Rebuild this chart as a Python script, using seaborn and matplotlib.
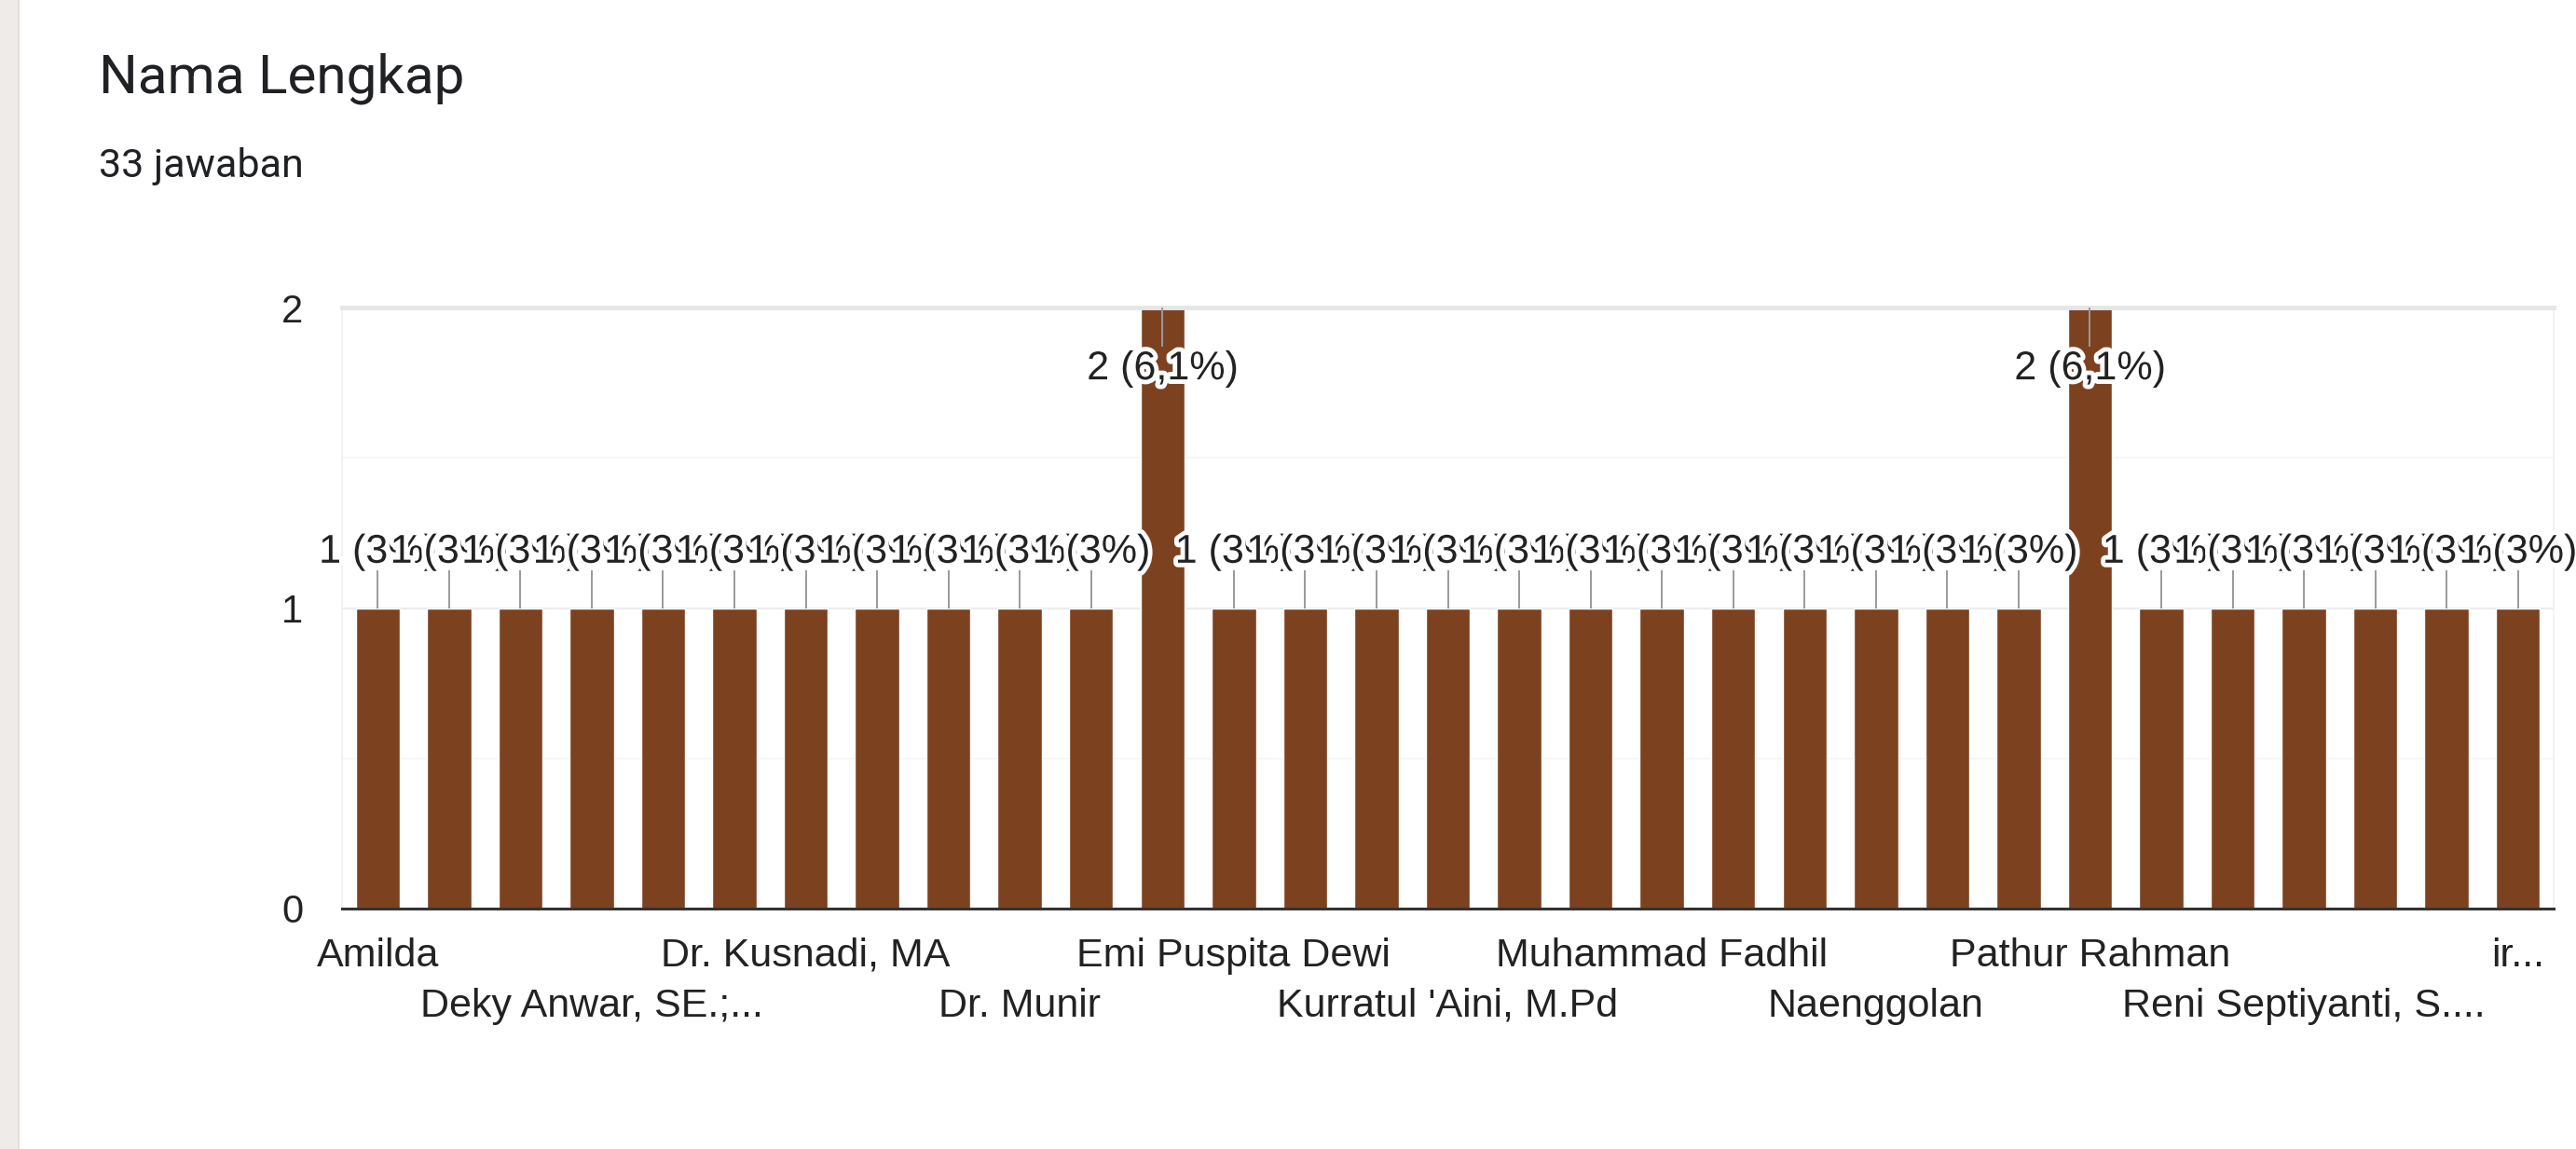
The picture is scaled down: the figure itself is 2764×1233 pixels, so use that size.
import matplotlib
matplotlib.use("Agg")
import matplotlib.pyplot as plt
import matplotlib.patheffects as pe
from matplotlib.patches import Rectangle
import seaborn as sns
import pandas as pd

# ---------------- data ----------------
title = "Nama Lengkap"
subtitle = "33 jawaban"
total_responses = 33

# 31 answer categories (alphabetical, as Google Forms sorts them);
# only every third name is visible in the picture, the others are hidden
categories = [
    "Amilda", "nama 2", "nama 3",
    "Deky Anwar, SE.;...", "nama 5", "nama 6",
    "Dr. Kusnadi, MA", "nama 8", "nama 9",
    "Dr. Munir", "nama 11", "nama 12",
    "Emi Puspita Dewi", "nama 14", "nama 15",
    "Kurratul 'Aini, M.Pd", "nama 17", "nama 18",
    "Muhammad Fadhil", "nama 20", "nama 21",
    "Naenggolan", "nama 23", "nama 24",
    "Pathur Rahman", "nama 26", "nama 27",
    "Reni Septiyanti, S....", "nama 29", "nama 30",
    "ir...",
]
counts = [1, 1, 1, 1, 1, 1, 1, 1, 1, 1, 1, 2, 1, 1, 1, 1,
          1, 1, 1, 1, 1, 1, 1, 1, 2, 1, 1, 1, 1, 1, 1]
label_step = 3
y_ticks = [0, 1, 2]

# ---------------- style ----------------
BAR = "#7c4220"
W, H = 2764, 1233
sns.set_theme(style="white")
plt.rcParams["font.family"] = ["Liberation Sans", "DejaVu Sans"]

fig = plt.figure(figsize=(W / 100, H / 100), dpi=100)
fig.patch.set_facecolor("white")
fig.patches.append(Rectangle((0, 0), 19 / W, 1, transform=fig.transFigure,
                             facecolor="#efebe8", edgecolor="none", zorder=0))
fig.patches.append(Rectangle((19 / W, 0), 2 / W, 1, transform=fig.transFigure,
                             facecolor="#e3dfdc", edgecolor="none", zorder=0))

fig.text(106 / W, 1 - 99 / H, title, fontsize=42, family=["Roboto", "DejaVu Sans"],
         color="#202124", va="baseline", ha="left")
fig.text(106 / W, 1 - 190 / H, subtitle, fontsize=31, family=["Roboto", "DejaVu Sans"],
         color="#202124", va="baseline", ha="left")

left, right, top, bottom = 367, 2740, 330, 975
ax = fig.add_axes([left / W, 1 - bottom / H, (right - left) / W, (bottom - top) / H])

df = pd.DataFrame({"nama": categories, "jumlah": counts})
sns.barplot(data=df, x="nama", y="jumlah", order=categories, color=BAR,
            saturation=1, width=0.62, ax=ax, zorder=2)

ymax = max(y_ticks)
ax.set_ylim(0, ymax)
ax.set_xlim(-0.5, len(categories) - 0.5)

ax.set_yticks(y_ticks)
ax.set_yticks([0.5, 1.5], minor=True)
ax.set_yticklabels([str(t) for t in y_ticks], fontsize=30, color="#222222")
ax.tick_params(axis="y", which="both", length=0, pad=30)
ax.grid(axis="y", which="major", color="#ececec", lw=1.6, zorder=0)
ax.grid(axis="y", which="minor", color="#f5f5f5", lw=1.2, zorder=0)
ax.grid(axis="x", visible=False)

ax.spines["top"].set_color("#e6e6e6")
ax.spines["top"].set_linewidth(3.5)
for s in ("left", "right"):
    ax.spines[s].set_color("#f0f0f0")
    ax.spines[s].set_linewidth(1.2)
ax.spines["bottom"].set_color("#333333")
ax.spines["bottom"].set_linewidth(2.2)
ax.spines["bottom"].set_zorder(5)

pos = list(range(0, len(categories), label_step))
labs = []
for k, p in enumerate(pos):
    labs.append(categories[p] if k % 2 == 0 else "\n" + categories[p])
ax.set_xticks(pos)
ax.set_xticklabels(labs, fontsize=31, color="#222222", linespacing=1.45)
ax.tick_params(axis="x", length=0, pad=22)
ax.set_xlabel("")
ax.set_ylabel("")


def pct_text(v):
    p = round(v / total_responses * 100, 1)
    s = f"{p:.1f}".rstrip("0").rstrip(".")
    return f"{int(v)} ({s.replace('.', ',')}%)"


halo = [pe.withStroke(linewidth=7, foreground="white")]
for i, v in enumerate(counts):
    if v >= ymax:
        y_txt, y_line = v - 0.205, v - 0.13
    else:
        y_txt, y_line = v + 0.185, v + 0.125
    ax.plot([i, i], [v, y_line], color="#9a9a9a", lw=1.4, zorder=3,
            solid_capstyle="butt")
    ax.text(i, y_txt, pct_text(v), ha="center", va="center", fontsize=31,
            color="#222222", zorder=4, path_effects=halo)

fig.savefig("out.png", dpi=100)
